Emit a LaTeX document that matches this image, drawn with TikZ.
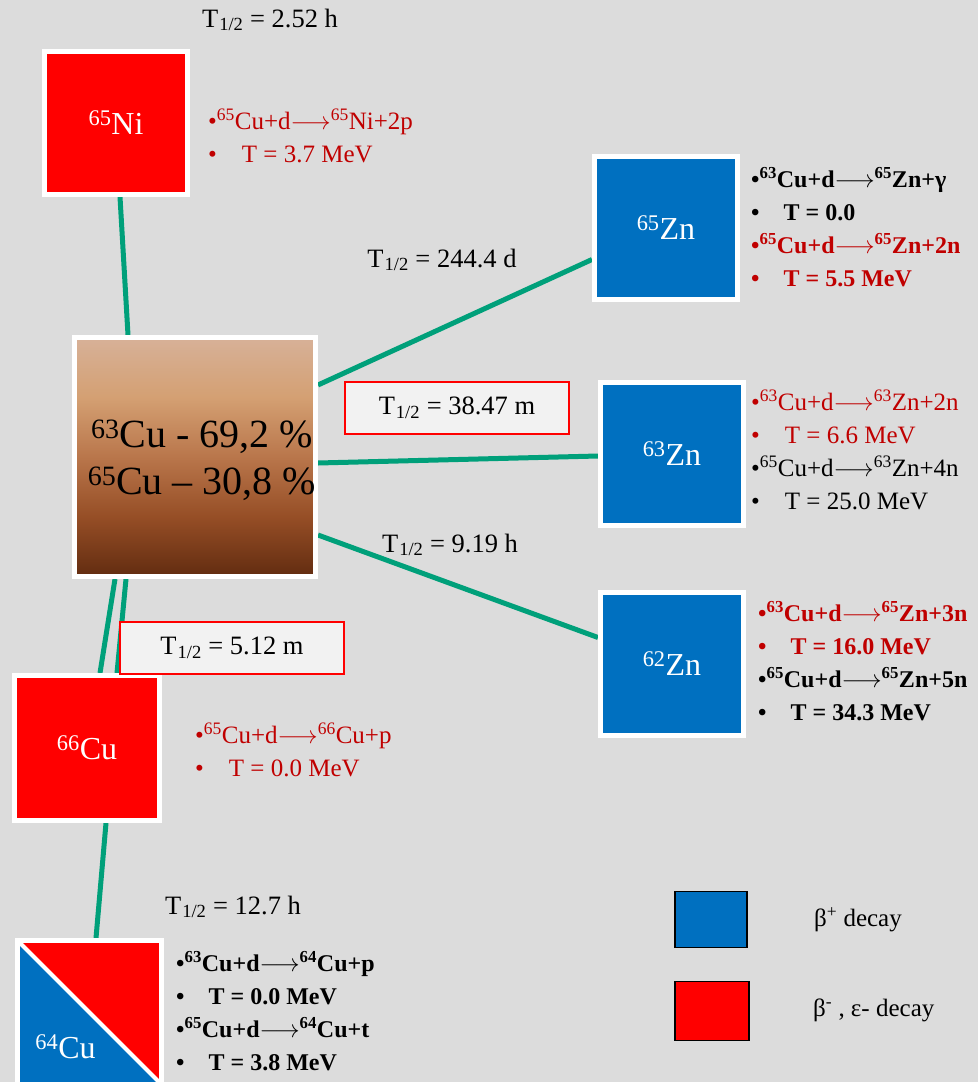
\documentclass[tikz,border=0pt]{standalone}
\usepackage{fontspec}
\setmainfont{Liberation Serif}
\usetikzlibrary{calc}
\definecolor{bgc}{RGB}{220,220,220}
\definecolor{zblue}{RGB}{0,112,192}
\definecolor{nred}{RGB}{255,0,0}
\definecolor{dred}{RGB}{192,0,0}
\definecolor{lgreen}{RGB}{0,160,122}
\definecolor{lblfill}{RGB}{242,242,242}
\definecolor{cutop}{RGB}{215,177,152}
\definecolor{cuA}{RGB}{212,160,115}
\definecolor{cuB}{RGB}{185,118,75}
\definecolor{cuC}{RGB}{150,78,38}
\definecolor{cubot}{RGB}{98,44,16}
\pgfdeclareverticalshading{cushade}{100bp}{color(0bp)=(cubot); color(25bp)=(cubot); color(37.5bp)=(cuC); color(50bp)=(cuB); color(62.5bp)=(cuA); color(75bp)=(cutop); color(100bp)=(cutop)}
\pgfdeclarelayer{back}
\pgfdeclarelayer{lines}
\pgfsetlayers{back,lines,main}
\newcommand{\isot}[1]{\textsuperscript{#1}}
\newcommand{\half}{T\kern1pt\textsubscript{1/2}}
\newcommand{\rarr}{${\longrightarrow}$}
\tikzset{
  nuc/.style={draw=white, line width=5pt, minimum width=#1, minimum height=#1, inner sep=0pt, text=white, font=\fontsize{32}{32}\selectfont},
  conn/.style={draw=lgreen, line width=5pt},
  hlbox/.style={draw=nred, line width=1.5pt, fill=lblfill, minimum width=224pt, minimum height=52pt, inner sep=0pt, font=\fontsize{26.5}{28}\selectfont},
  hl/.style={inner sep=0pt, font=\fontsize{26.5}{28}\selectfont},
  react/.style={anchor=west, align=left, inner sep=0pt, font=\fontsize{25}{33}\selectfont},
  reactb/.style={anchor=west, align=left, inner sep=0pt, font=\fontsize{24}{33}\selectfont\bfseries},
  legbox/.style={draw=black, line width=1.5pt, inner sep=0pt},
  legtxt/.style={anchor=west, inner sep=0pt, font=\fontsize{25}{28}\selectfont}
}
\begin{document}
\begin{tikzpicture}[x=1pt,y=-1pt]
\begin{pgfonlayer}{back}
\clip (0,0) rectangle (978,1082);
\fill[bgc] (0,0) rectangle (978,1082);
\end{pgfonlayer}
\useasboundingbox (0,0) rectangle (978,1082);
\clip (0,0) rectangle (978,1082);

% nuclide boxes
\node[nuc=143pt, fill=nred] (ni) at (116,123) {\isot{65}Ni};
\node[draw=white, line width=5pt, shade, shading=cushade, minimum width=241pt, minimum height=239pt, inner sep=0pt] (cu) at (195,457) {};
\node[inner sep=0pt, align=center, font=\fontsize{40}{47}\selectfont] (cutxt) at ([xshift=7pt,yshift=-3pt]cu.center) {\isot{63}Cu - 69,2 \%\\\isot{65}Cu – 30,8 \%};
\node[nuc=143pt, fill=zblue] (zn65) at (666,227.5) {\isot{65}Zn};
\node[nuc=143pt, fill=zblue] (zn63) at (672,453.5) {\isot{63}Zn};
\node[nuc=143pt, fill=zblue] (zn62) at (672,663.5) {\isot{62}Zn};
\node[nuc=145pt, fill=nred] (cu66) at (87,748) {\isot{66}Cu};
\node[draw=white, line width=5pt, minimum size=144pt, inner sep=0pt, path picture={
  \fill[zblue] (path picture bounding box.north west) -- (path picture bounding box.south west) -- (path picture bounding box.south east) -- cycle;
  \fill[nred] (path picture bounding box.north west) -- (path picture bounding box.north east) -- (path picture bounding box.south east) -- cycle;
  \draw[white, line width=4pt] (path picture bounding box.north west) -- (path picture bounding box.south east);
}] (cu64) at (89.5,1012.5) {};
\node[text=white, inner sep=0pt, font=\fontsize{32}{32}\selectfont] (cu64lbl) at ([xshift=-24pt,yshift=-34pt]cu64.center) {\isot{64}Cu};

% connectors
\begin{pgfonlayer}{lines}
\draw[conn] ([xshift=4pt]ni.south) -- ([xshift=-67pt]cu.north);
\draw[conn] ([yshift=72pt]cu.east) -- ([yshift=-32pt]zn65.west);
\draw[conn] ([yshift=-6pt]cu.east) -- ([yshift=-2.5pt]zn63.west);
\draw[conn] ([yshift=-78pt]cu.east) -- ([yshift=26pt]zn62.west);
\draw[conn] ([xshift=-80pt]cu.south) -- ([xshift=13pt]cu66.north);
\draw[conn] ([xshift=-69pt]cu.south) -- ([xshift=30pt]cu66.north);
\draw[conn] ([xshift=19pt]cu66.south) -- ([xshift=6.5pt]cu64.north);
\end{pgfonlayer}

% half-lives
\node[hl] (hni) at (270,20) {\half{} = 2.52 h};
\node[hl] (hzn65) at (442,260) {\half{} = 244.4 d};
\node[hlbox] (hzn63) at (457,408) {\half{} = 38.47 m};
\node[hl] (hzn62) at (450,545) {\half{} = 9.19 h};
\node[hlbox] (hcu66) at (232,648) {\half{} = 5.12 m};
\node[hl] (hcu64) at (233,907) {\half{} = 12.7 h};

% reactions
\node[react, text=dred] (rni) at (208,136) {•\isot{65}Cu+d\rarr\isot{65}Ni+2p\\•\hspace{1em}T = 3.7 MeV};
\node[reactb] (rzn65) at (751,227) {•\isot{63}Cu+d\rarr\isot{65}Zn+γ\\•\hspace{1em}T = 0.0\\\textcolor{dred}{•\isot{65}Cu+d\rarr\isot{65}Zn+2n}\\\textcolor{dred}{•\hspace{1em}T = 5.5 MeV}};
\node[react] (rzn63) at (751,450) {\textcolor{dred}{•\isot{63}Cu+d\rarr\isot{63}Zn+2n}\\\textcolor{dred}{•\hspace{1em}T = 6.6 MeV}\\•\isot{65}Cu+d\rarr\isot{63}Zn+4n\\•\hspace{1em}T = 25.0 MeV};
\node[reactb] (rzn62) at (758,661.5) {\textcolor{dred}{•\isot{63}Cu+d\rarr\isot{65}Zn+3n}\\\textcolor{dred}{•\hspace{1em}T = 16.0 MeV}\\•\isot{65}Cu+d\rarr\isot{65}Zn+5n\\•\hspace{1em}T = 34.3 MeV};
\node[react, text=dred] (rcu66) at (195,750) {•\isot{65}Cu+d\rarr\isot{66}Cu+p\\•\hspace{1em}T = 0.0 MeV};
\node[reactb] (rcu64) at (176,1011) {•\isot{63}Cu+d\rarr\isot{64}Cu+p\\•\hspace{1em}T = 0.0 MeV\\•\isot{65}Cu+d\rarr\isot{64}Cu+t\\•\hspace{1em}T = 3.8 MeV};

% legend
\node[legbox, fill=zblue, minimum width=72pt, minimum height=56pt] (legb) at (711,919.5) {};
\node[legbox, fill=nred, minimum width=74pt, minimum height=59pt] (legr) at (712,1011) {};
\node[legtxt] (legbt) at (814,920) {β\textsuperscript{+} decay};
\node[legtxt] (legrt) at (813,1010) {β\textsuperscript{-} , ε- decay};
\end{tikzpicture}
\end{document}
